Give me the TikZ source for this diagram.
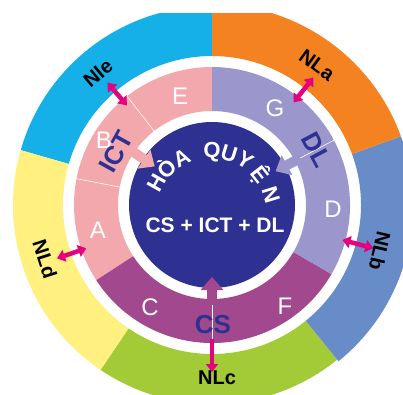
\documentclass[tikz,border=0pt]{standalone}
\usepackage{fontspec}
\setmainfont{Liberation Sans}
\usetikzlibrary{arrows.meta}
\definecolor{cNLe}{RGB}{22,176,232}
\definecolor{cNLa}{RGB}{245,130,32}
\definecolor{cNLb}{RGB}{104,140,200}
\definecolor{cNLc}{RGB}{163,203,56}
\definecolor{cNLd}{RGB}{255,240,128}
\definecolor{cpink}{RGB}{242,168,172}
\definecolor{clav}{RGB}{155,151,204}
\definecolor{cpurp}{RGB}{162,72,142}
\definecolor{cdark}{RGB}{46,49,146}
\definecolor{cmag}{RGB}{230,0,126}
\newcommand\annsec[5]{\fill[#1] (#2:#4) -- (#2:#5) arc[start angle=#2,end angle=#3,radius=#5] -- (#3:#4) arc[start angle=#3,end angle=#2,radius=#4] -- cycle;}
\tikzset{
  ringlbl/.style={text=white,font=\fontsize{24}{24}\selectfont},
  nllbl/.style={text=black,font=\bfseries\fontsize{20}{20}\selectfont,inner sep=1pt},
  keylbl/.style={text=cdark,font=\bfseries\fontsize{26}{26}\selectfont,inner sep=1pt},
  curv/.style={text=white,font=\bfseries\fontsize{22}{22}\selectfont,anchor=base,inner sep=0pt},
  sumlbl/.style={text=white,font=\bfseries\fontsize{21}{21}\selectfont},
  magarrow/.style={line width=4.5pt,cmag,{Triangle[width=12pt,length=8pt]}-{Triangle[width=12pt,length=8pt]}},
  magone/.style={line width=4.5pt,cmag,-{Triangle[width=12pt,length=8pt]}},
  inarrow/.style={line width=10pt,-{Triangle[width=22pt,length=13pt]}},
  sepline/.style={white,line width=0.6pt}
}
\begin{document}
\begin{tikzpicture}[x=1pt,y=1pt]
\useasboundingbox (0,-394) rectangle (403,0);
\fill[white] (0,-394) rectangle (403,0);
\begin{scope}[shift={(212,-205)}]
  % outer band
  \begin{scope}
    \clip (-212,-189) rectangle (191,192);
    \annsec{cNLe}{90}{164}{149}{199}
    \annsec{cNLd}{164}{236}{149}{199}
    \annsec{cNLc}{236}{309}{149}{199}
    \annsec{cNLb}{309}{380}{149}{201}
    \annsec{cNLa}{20}{90}{149}{201}
  \end{scope}
  % middle ring
  \annsec{cpink}{90}{213}{94}{138}
  \annsec{cpurp}{213}{330}{94}{138}
  \annsec{clav}{330}{450}{94}{138}
  \draw[sepline] (128:94) -- (128:138);
  \draw[sepline] (169:94) -- (169:138);
  \draw[sepline] (28:94) -- (28:138);
  \draw[sepline] (270:94) -- (270:138);
  % centre disc
  \fill[cdark] (0,0) circle[radius=83];
  % inner arrows
  \coordinate (ictA) at (146:100); \coordinate (ictB) at (146:69);
  \coordinate (dlA) at (28:100);  \coordinate (dlB) at (28:72);
  \coordinate (csA) at (270:100); \coordinate (csB) at (270:72);
  \draw[inarrow,cpink] (ictA) -- (ictB);
  \draw[inarrow,clav] (dlA) -- (dlB);
  \draw[inarrow,cpurp] (csA) -- (csB);
  % magenta arrows
  \coordinate (e1) at (130.5:131); \coordinate (e2) at (130.5:161);
  \coordinate (a1) at (51.5:131);  \coordinate (a2) at (51.5:163);
  \coordinate (b1) at (-15:135);   \coordinate (b2) at (-15:167);
  \coordinate (c1) at (270:134);   \coordinate (c2) at (270:167);
  \coordinate (d1) at (199:133);   \coordinate (d2) at (199:164);
  \draw[magarrow] (e1) -- (e2);
  \draw[magarrow] (a1) -- (a2);
  \draw[magarrow] (b1) -- (b2);
  \draw[magone] (c1) -- (c2);
  \draw[magarrow] (d1) -- (d2);
  % ring labels
  \node[ringlbl] (lE) at (-32,109) {E};
  \node[ringlbl] (lG) at (63,97) {G};
  \node[ringlbl] (lB) at (-108,65) {B};
  \node[ringlbl] (lA) at (-114,-25) {A};
  \node[ringlbl] (lC) at (-62,-102) {C};
  \node[ringlbl] (lF) at (73,-101) {F};
  \node[ringlbl] (lD) at (121,-4) {D};
  % key labels
  \node[keylbl,rotate=61] (kICT) at (-96,53) {ICT};
  \node[keylbl,rotate=-62] (kDL) at (105,55) {DL};
  \node[keylbl] (kCS) at (1,-120) {CS};
  % outer labels
  \node[nllbl,rotate=40] (oNle) at (-114,132) {Nle};
  \node[nllbl,rotate=-36] (oNLa) at (105,140) {NLa};
  \node[nllbl,rotate=-103] (oNLb) at (168,-46) {NLb};
  \node[nllbl] (oNLc) at (5,-173) {NLc};
  \node[nllbl,rotate=-72] (oNLd) at (-167,-54) {NLd};
  % centre texts
  \foreach \ch/\ang in {H/151,Ò/135,A/118,Q/89,U/73,Y/57,Ệ/38,N/17}
    \node[curv,rotate=\ang-90] (hq\ang) at ([shift={(-1,-8)}]\ang:55) {\ch};
  \node[sumlbl] (sum) at (3,-20) {CS + ICT + DL};
\end{scope}
\end{tikzpicture}
\end{document}
